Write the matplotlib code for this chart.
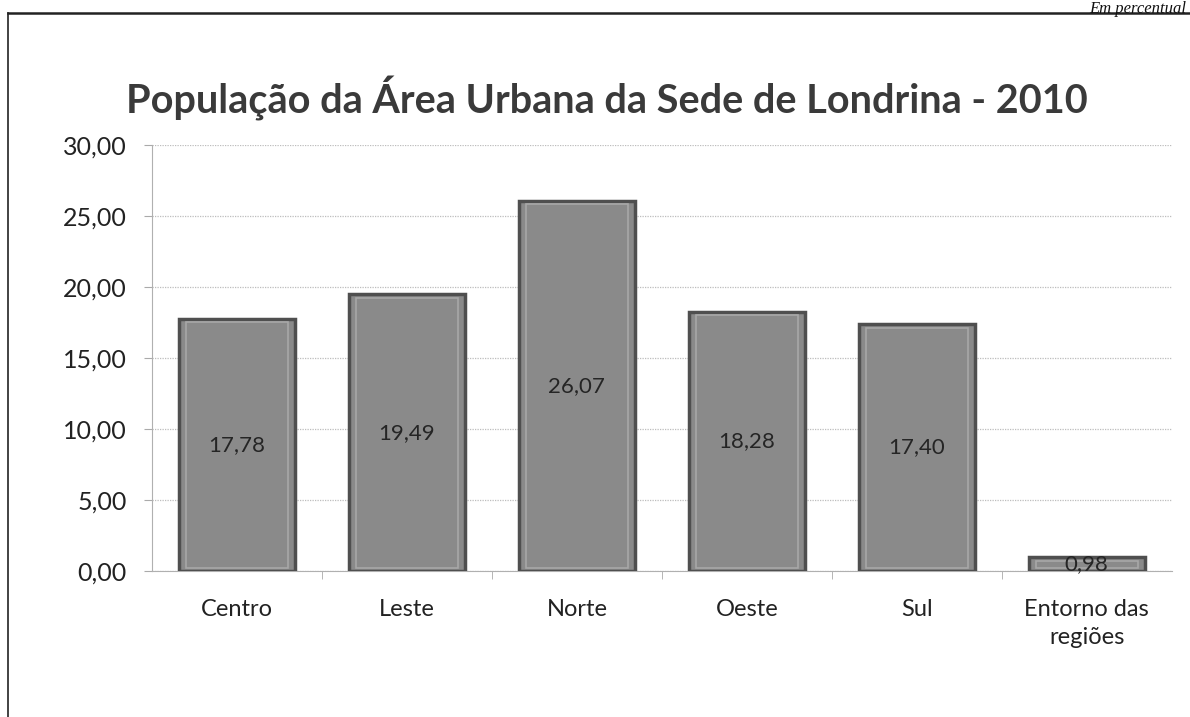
import matplotlib
matplotlib.use("Agg")
import matplotlib.pyplot as plt
from matplotlib.lines import Line2D

plt.rcParams['font.family'] = ['Lato', 'DejaVu Sans']

categories = ["Centro", "Leste", "Norte", "Oeste", "Sul", "Entorno das\nregiões"]
values = [17.78, 19.49, 26.07, 18.28, 17.40, 0.98]
yticks = [0, 5, 10, 15, 20, 25, 30]
title = "População da Área Urbana da Sede de Londrina - 2010"

def br(v):
    return f"{v:.2f}".replace(".", ",")

fig = plt.figure(figsize=(11.9, 7.17), dpi=100)
ax = fig.add_axes([0.1277, 0.2036, 0.857, 0.594])

x = list(range(len(categories)))
ax.bar(x, values, width=0.68, color="#8a8a8a", edgecolor="#4f4f4f", linewidth=2.5, zorder=3)
ax.bar(x, [max(v - 0.45, 0) for v in values], bottom=0.2, width=0.6, color="none",
       edgecolor="#a8a8a8", linewidth=1.2, zorder=4)

for xi, v in zip(x, values):
    ax.text(xi, v / 2, br(v), ha="center", va="center", fontsize=16, color="#252525", zorder=5)

ax.set_xlim(-0.5, len(categories) - 0.5)
ax.set_ylim(0, 30)
ax.set_yticks(yticks)
ax.set_yticklabels([br(t) for t in yticks], fontsize=18, color="#222222")
ax.set_xticks(x)
ax.set_xticklabels(categories, fontsize=17, color="#222222", linespacing=1.45)
ax.tick_params(axis="x", length=0, pad=20)
ax.tick_params(axis="y", length=6, color="#aaaaaa", pad=12)
ax.set_xticks([i + 0.5 for i in x[:-1]], minor=True)
ax.tick_params(axis="x", which="minor", length=6, color="#aaaaaa")

ax.grid(axis="y", color="#bdbdbd", linestyle=(0, (1, 1)), linewidth=0.9, zorder=0)
for s in ["top", "right"]:
    ax.spines[s].set_visible(False)
ax.spines["left"].set_color("#b0b0b0")
ax.spines["bottom"].set_color("#b0b0b0")

fig.text(0.51, 0.862, title, ha="center", va="center", fontsize=28.5, fontweight="bold", color="#3a3a3a")

fig.add_artist(Line2D([0.007, 1.0], [0.982, 0.982], color="#222222", linewidth=1.8, transform=fig.transFigure))
fig.add_artist(Line2D([0.007, 0.007], [0.0, 0.982], color="#222222", linewidth=1.2, transform=fig.transFigure))
fig.text(0.997, 0.999, "Em percentual", ha="right", va="top", fontsize=12, style="italic",
         family=["Liberation Serif"], color="#111111")

fig.savefig("out.png", dpi=100)
